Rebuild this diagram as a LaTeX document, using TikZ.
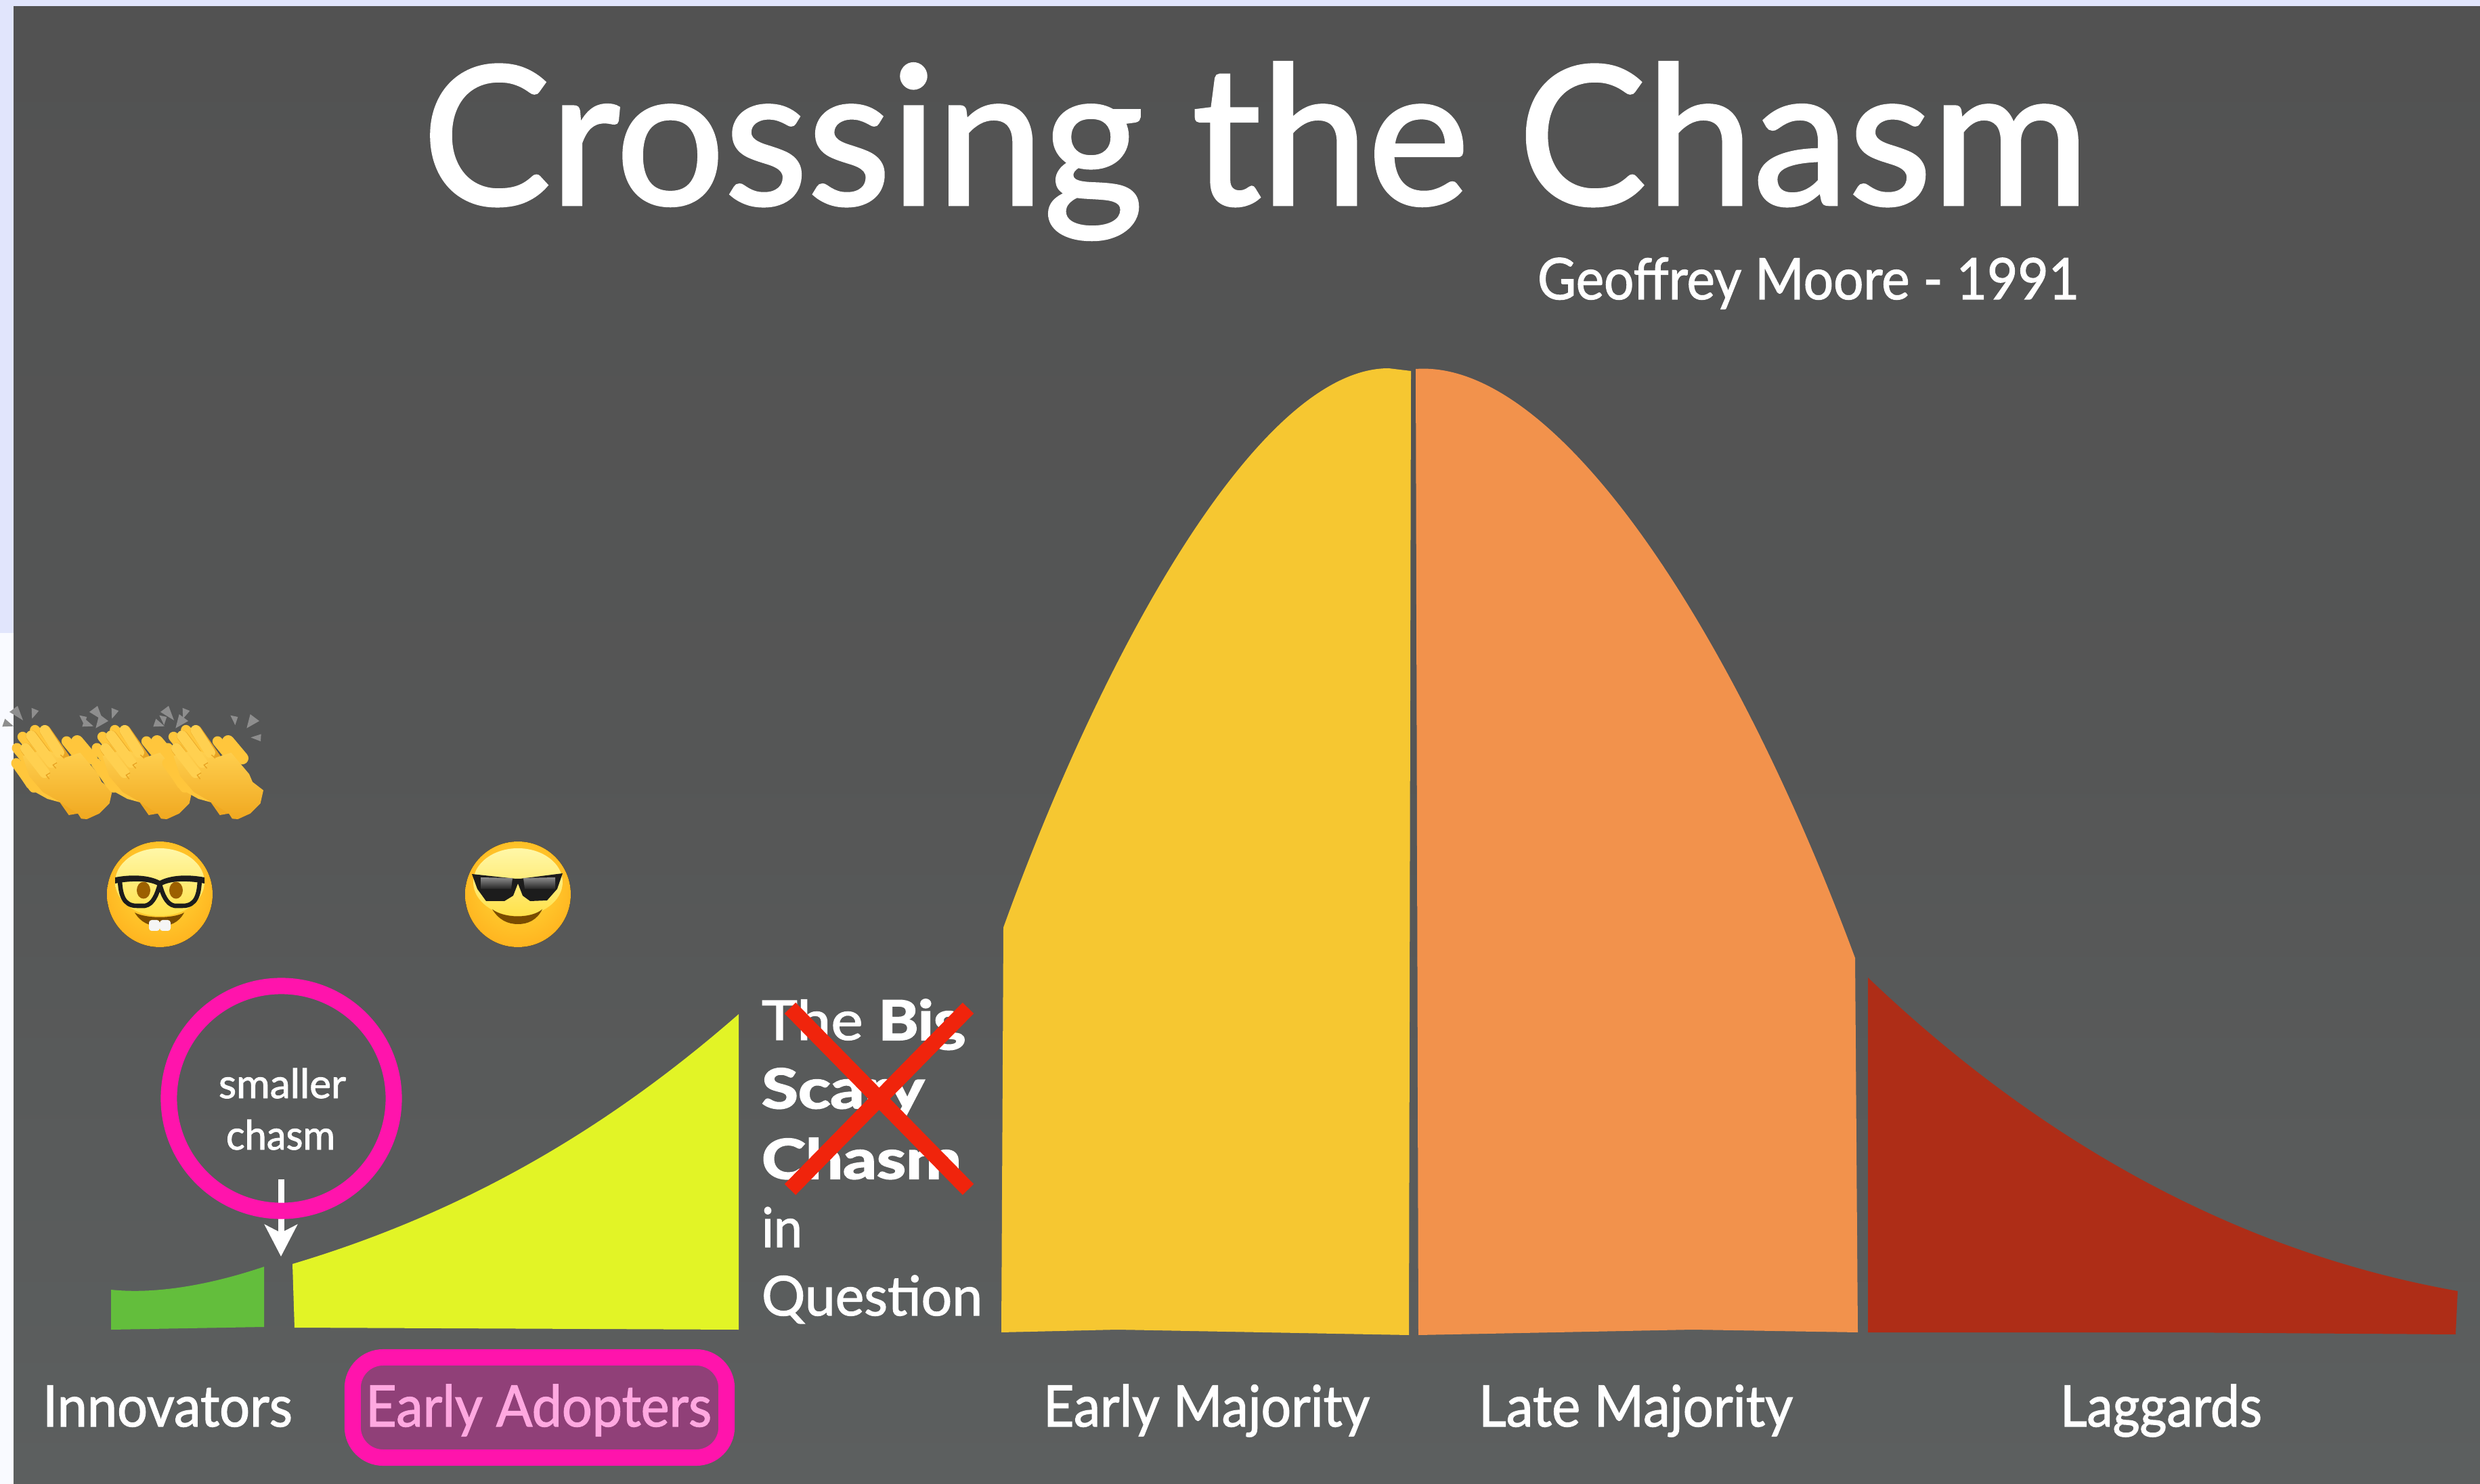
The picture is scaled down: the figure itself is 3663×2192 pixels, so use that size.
\documentclass[tikz,border=0pt]{standalone}
\usepackage{fontspec}
\usepackage{graphicx}
\setmainfont{Lato}[UprightFeatures={FakeBold=1.6},BoldFeatures={FakeBold=2.5}]
\usetikzlibrary{arrows.meta}
\definecolor{bgtop}{HTML}{525252}
\definecolor{bgbot}{HTML}{5C5F5F}
\definecolor{lav}{HTML}{E1E5FC}
\definecolor{paper}{HTML}{F9FAFF}
\definecolor{cYellow}{HTML}{F6C731}
\definecolor{cOrange}{HTML}{F2924C}
\definecolor{cRed}{HTML}{AE2D17}
\definecolor{cLime}{HTML}{E2F426}
\definecolor{cGreen}{HTML}{63BE3C}
\definecolor{cPink}{HTML}{FF14AC}
\definecolor{cPlum}{HTML}{904078}
\definecolor{cPale}{HTML}{FFA8E0}
\definecolor{cCross}{HTML}{F0240C}
\definecolor{fa}{HTML}{FFE14A}
\definecolor{fb}{HTML}{FFC42A}
\definecolor{fc}{HTML}{FFA818}
\definecolor{fd}{HTML}{F08C00}
\definecolor{dome}{HTML}{FFF7A8}
\definecolor{eyebrown}{HTML}{9C6000}
\definecolor{mouthbrown}{HTML}{7A4C00}
\definecolor{glass}{HTML}{1C1C1C}
\definecolor{handL}{HTML}{FFD050}
\definecolor{handM}{HTML}{FFC63C}
\definecolor{handD}{HTML}{E8A424}
\definecolor{wristD}{HTML}{F0A820}
\definecolor{spark}{HTML}{8E8E8E}
\pgfdeclareradialshading{facesh}{\pgfpoint{0bp}{6bp}}{color(0bp)=(fa);color(18bp)=(fb);color(36bp)=(fc);color(47bp)=(fc);color(54bp)=(fd);color(60bp)=(fd)}
\newcommand{\fw}[2]{\resizebox{\dimexpr #1\dimexpr0.01cm\relax\relax}{\height}{#2}}
\tikzset{
  lbl/.style={anchor=base west,inner sep=0pt,outer sep=0pt,text=white},
  ringline/.style={draw=cPink,line width=0.24cm},
  crossline/.style={draw=cCross,line width=0.23cm},
  finger/.style={line width=0.165cm,line cap=round,draw=handD},
  fingertop/.style={line width=0.152cm,line cap=round,draw=handL},
  fingerback/.style={line width=0.15cm,line cap=round,draw=handM},
  sparkle/.style={fill=spark,draw=none},
}
\newcommand{\faceball}{%
  \fill[shading=facesh] (0,0) circle (78);
  \shade[top color=dome,bottom color=fa] (0,-18) ellipse (66 and 50);
}
\newcommand{\clapgroup}[1]{%
\begin{scope}[shift={(#1,1030)},scale=0.33333]
  \fill[sparkle] (42,65)--(78,38)--(102,102)--cycle;
  \fill[sparkle] (140,47)--(172,60)--(142,95)--cycle;
  \fill[sparkle] (10,130)--(22,95)--(60,128)--cycle;
  \fill[sparkle] (352,80)--(385,87)--(373,123)--cycle;
  \fill[sparkle] (440,75)--(480,105)--(424,137)--cycle;
  \fill[sparkle] (442,178)--(488,163)--(486,195)--cycle;
  \fill[wristD] (265,465)--(305,522)--(345,515)--(330,470)--cycle;
  \draw[fingerback] (155,145)--(260,270);
  \draw[fingerback] (100,175)--(200,300);
  \draw[fingerback] (75,225)--(170,340);
  \draw[fingerback] (72,292)--(150,400);
  \fill[handM] (55,300)--(120,400)--(210,450)--(265,465)--(300,300)--(160,250)--cycle;
  \draw[fingerback] (295,195)--(340,250);
  \draw[line width=0.18cm,line cap=round,draw=handM] (342,195)--(405,270);
  \draw[finger] (200,148)--(285,270);
  \draw[finger] (140,172)--(248,315);
  \draw[finger] (115,228)--(218,362);
  \shade[top color=handL,middle color=handL,bottom color=wristD] (200,230)--(285,268)--(355,245)--(435,340)--(450,375)--(498,412)--(485,470)--(440,515)--(385,540)--(360,538)--(345,515)--(250,455)--(190,420)--(130,350)--(100,260)--cycle;
  \draw[fingertop] (198,146)--(262,245);
  \draw[fingertop] (138,170)--(228,290);
  \draw[fingertop] (113,226)--(198,335);
  \draw[line width=0.014cm,draw=handD] (222,335)--(205,345)--(218,362);
  \draw[line width=0.014cm,draw=handD] (252,290)--(235,300)--(248,315);
  \draw[line width=0.014cm,draw=handD] (268,255)--(285,270);
\end{scope}}
\begin{document}
\begin{tikzpicture}[x=0.01cm,y=-0.01cm]
\useasboundingbox (0,0) rectangle (3663,2192);
\fill[paper] (0,0) rectangle (3663,2192);
\fill[lav] (0,0) rectangle (3663,10);
\fill[lav] (0,0) rectangle (20,935);
\shade[top color=bgtop,bottom color=bgbot,middle color=bgtop!70!bgbot] (20,10) rectangle (3663,2192);
\node[lbl,font=\fontsize{81}{90}\selectfont] (title) at (624,302) {\fw{2462}{Crossing the Chasm}};
\node[lbl,font=\fontsize{24}{28}\selectfont] (author) at (2271,442) {\fw{800}{Geoffrey Moore - 1991}};
\fill[cGreen] (164,1905) .. controls (230,1912) and (310,1898) .. (390,1871) -- (390,1960) -- (164,1964) -- cycle;
\fill[cLime] (432,1867) .. controls (690,1790) and (900,1665) .. (1091,1498) -- (1091,1964) -- (435,1961) -- cycle;
\fill[cYellow] (1482,1370) .. controls (1630,960) and (1860,544) .. (2051,544) -- (2084,548) -- (2081,1972) -- (1650,1964) -- (1479,1968) -- cycle;
\fill[cOrange] (2091,545) .. controls (2300,530) and (2560,930) .. (2740,1415) -- (2744,1968) -- (2500,1964) -- (2095,1972) -- cycle;
\fill[cRed] (2759,1444) .. controls (2990,1665) and (3280,1845) .. (3630,1907) -- (3627,1971) -- (3200,1968) -- (2759,1968) -- cycle;
\coordinate (arrowfrom) at (415,1742);
\coordinate (arrowto) at (415,1856);
\draw[-{Stealth[length=0.47cm,width=0.48cm,inset=0.12cm]},draw=white,fill=white,line width=0.09cm] (arrowfrom) -- (arrowto);
\node[circle,ringline,minimum size=3.32cm,inner sep=0pt] (ring) at (415.5,1622.5) {};
\node[lbl,font=\fontsize{17}{20}\selectfont] (smaller) at (323,1622) {\fw{188}{smaller}};
\node[lbl,font=\fontsize{17}{20}\selectfont] (chasm) at (334,1698) {\fw{161}{chasm}};
\node[lbl,font=\fontsize{24}{28}\selectfont] (innov) at (63,2107) {\fw{369}{Innovators}};
\node[rectangle,ringline,fill=cPlum,rounded corners=0.45cm,minimum width=5.52cm,minimum height=1.48cm,inner sep=0pt] (adoptbox) at (797,2079) {};
\node[lbl,text=cPale,font=\fontsize{24}{28}\selectfont] (adopt) at (540,2107) {\fw{511}{Early Adopters}};
\node[lbl,font=\fontsize{24}{28}\selectfont] (earlym) at (1541,2107) {\fw{482}{Early Majority}};
\node[lbl,font=\fontsize{24}{28}\selectfont] (latem) at (2184,2107) {\fw{464}{Late Majority}};
\node[lbl,font=\fontsize{24}{28}\selectfont] (lagg) at (3043,2107) {\fw{298}{Laggards}};
\node[lbl,font=\fontsize{23}{28}\selectfont] (bigA) at (1125,1536) {\fw{301}{The \textbf{Big}}};
\node[lbl,font=\fontsize{23}{28}\selectfont\bfseries] (bigB) at (1125,1637) {\fw{240}{Scary}};
\node[lbl,font=\fontsize{23}{28}\selectfont\bfseries] (bigC) at (1125,1741) {\fw{295}{Chasm}};
\node[lbl,font=\fontsize{23}{28}\selectfont] (bigD) at (1125,1842) {\fw{60}{in}};
\node[lbl,font=\fontsize{23}{28}\selectfont] (bigE) at (1125,1943) {\fw{326}{Question}};
\coordinate (xa) at (1167,1489);
\coordinate (xb) at (1430,1757);
\coordinate (xc) at (1430,1489);
\coordinate (xd) at (1167,1757);
\draw[crossline] (xa) -- (xb);
\draw[crossline] (xc) -- (xd);
\begin{scope}[shift={(236,1321)}]
  \faceball
  \fill[glass] (-66,-25) .. controls (-40,-30) and (-15,-28) .. (0,-20) .. controls (15,-28) and (40,-30) .. (66,-25) -- (66,-16) .. controls (40,-21) and (15,-20) .. (3,-13) -- (-3,-13) .. controls (-15,-20) and (-40,-21) .. (-66,-16) -- cycle;
  \fill[glass] (-5,-20) -- (5,-20) -- (2,-7) -- (-2,-7) -- cycle;
  \draw[line width=0.065cm,draw=glass,line join=round] (-59,-21) .. controls (-58,0) and (-54,17) .. (-34,17) -- (-22,17) .. controls (-10,15) and (-4,0) .. (0,-15) .. controls (4,0) and (10,15) .. (22,17) -- (34,17) .. controls (54,17) and (58,0) .. (59,-21);
  \fill[eyebrown] (-24,-6) ellipse (10 and 12.5);
  \fill[eyebrown] (24,-6) ellipse (10 and 12.5);
  \fill[mouthbrown] (-37,27) .. controls (-20,36) and (20,36) .. (36,27) .. controls (28,42) and (15,47) .. (0,47) .. controls (-15,47) and (-28,42) .. (-37,27) -- cycle;
  \fill[white!92!gray,rounded corners=0.04cm] (-16,38) rectangle (0,54);
  \fill[white!92!gray,rounded corners=0.04cm] (0,38) rectangle (16,54);
\end{scope}
\begin{scope}[shift={(765,1321)}]
  \faceball
  \fill[glass,line join=round] (-68,-30) -- (-3,-23) -- (3,-23) -- (66,-31) -- (58,-8) -- (43,9) -- (18,10) -- (7,2) -- (0,-16) -- (-7,2) -- (-20,10) -- (-47,10) -- (-60,-8) -- cycle;
  \shade[top color=black!45,bottom color=black!85] (-55,-25) -- (-8,-24) -- (-10,-8) -- (-55,-8) -- cycle;
  \shade[top color=black!45,bottom color=black!85] (8,-24) -- (55,-25) -- (55,-8) -- (10,-8) -- cycle;
  \fill[mouthbrown] (-38,22) .. controls (-20,36) and (20,36) .. (36,22) .. controls (28,38) and (15,44) .. (0,44) .. controls (-15,44) and (-28,38) .. (-38,22) -- cycle;
\end{scope}
\clapgroup{0}
\clapgroup{118}
\clapgroup{223}
\end{tikzpicture}
\end{document}
